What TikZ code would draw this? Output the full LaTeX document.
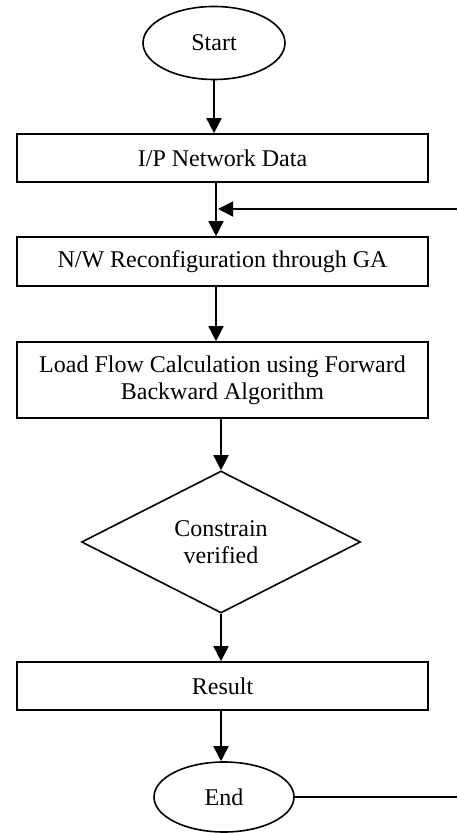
\documentclass[tikz,border=0pt]{standalone}
\usepackage{fontspec}
\setmainfont{Liberation Serif}
\usetikzlibrary{arrows.meta,shapes.geometric}

\tikzset{
  txt/.style = {font=\fontsize{12}{13.6}\selectfont},
  terminal/.style = {ellipse, draw, line width=0.8pt, txt, inner sep=0pt},
  process/.style = {rectangle, draw, line width=0.8pt, txt, align=center, minimum width=205.5pt},
  decision/.style = {diamond, draw, line width=0.8pt, txt, align=center, aspect=2, inner sep=0pt,
                     minimum width=139.5pt, minimum height=71pt},
  conn/.style = {line width=0.8pt, -{Triangle[length=7.5pt,width=7.5pt]}}
}

\begin{document}
\begin{tikzpicture}[x=0.5pt,y=-0.5pt]
	\useasboundingbox (0,0) rectangle (457,833);
	% blocks
		\node[terminal, minimum width=71pt, minimum height=36.5pt] (start) at (214,43) {Start};
		\node[process, minimum height=24pt] (ipdata) at (222.5,158) {I/P Network Data};
		\node[process, minimum height=24.5pt] (nwconfig) at (222.5,261.5) {N/W Reconfiguration through GA};
		\node[process, minimum height=38pt] (loadflow) at (222.5,380) {Load Flow Calculation using Forward\\Backward Algorithm};
		\node[decision] (check) at (221,542) {Constrain\\verified};
		\node[process, minimum height=24pt] (result) at (222.5,686) {Result};
		\node[terminal, minimum width=70pt, minimum height=35pt] (finish) at (224,797) {End};
		\coordinate (join) at (216,209);
		\coordinate (fbin) at (457,209);
		\coordinate (fbout) at (457,797);
	% connectors
		\draw[conn] (start.south) -- (start.south |- ipdata.north);
		\draw[line width=0.8pt] (ipdata.south -| join) -- (join);
		\draw[conn] (join) -- (join |- nwconfig.north);
		\draw[conn] (fbin) -- ([xshift=1pt]join);
		\draw[conn] (nwconfig.south -| join) -- (loadflow.north -| join);
		\draw[conn] (loadflow.south -| check.north) -- (check.north);
		\draw[conn] (check.south) -- (check.south |- result.north);
		\draw[conn] (result.south -| check.south) -- (finish.north -| check.south);
		\draw[line width=0.8pt] (finish.east) -- (finish.east -| fbout);
\end{tikzpicture}
\end{document}
